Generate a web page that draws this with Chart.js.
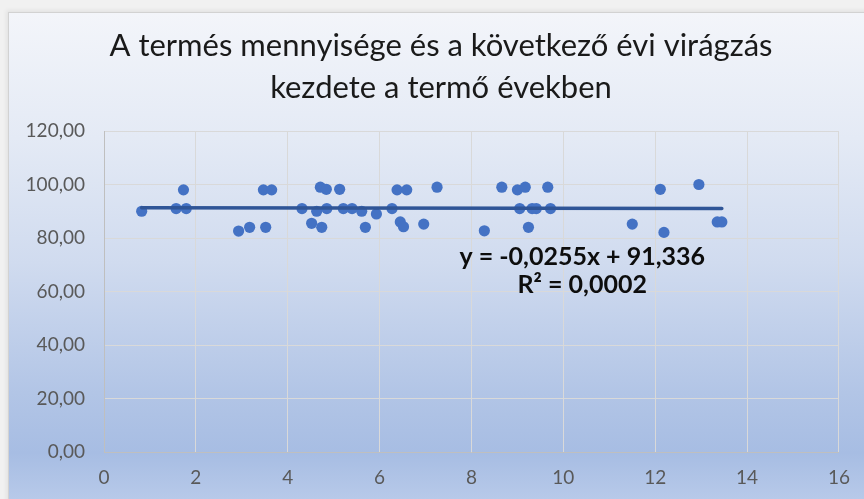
<!DOCTYPE html>
<html lang="hu">
<head>
<meta charset="utf-8">
<script src="https://cdn.jsdelivr.net/npm/chart.js@4.4.1/dist/chart.umd.min.js"></script>
<style>
  html, body { margin: 0; padding: 0; width: 864px; height: 499px; overflow: hidden; background: #f1f1f1; }
  #frame {
    position: absolute; left: 8px; top: 12px; width: 870px; height: 500px;
    border: 1px solid #d2d2d2;
    box-shadow: -2px -2px 4px rgba(0,0,0,0.06);
    background: linear-gradient(to bottom, #f3f5fa 0%, #e4eaf5 25%, #d0dbef 50%, #b2c5e6 76%, #a7bde3 88%, #bccdeb 100%);
  }
  #wrap { position: absolute; left: 0; top: 0; width: 864px; height: 499px; }
</style>
</head>
<body>
<div id="frame"></div>
<div id="wrap"><canvas id="c" width="864" height="499"></canvas></div>
<script>
// Termés mennyisége (x) és a következő évi virágzás kezdete (y)
const termes = [0.82, 1.57, 1.73, 1.79, 2.93, 3.17, 3.47, 3.52, 3.65, 4.31,
                4.52, 4.63, 4.71, 4.74, 4.84, 4.85, 5.13, 5.21, 5.40, 5.61,
                5.69, 5.93, 6.27, 6.38, 6.45, 6.52, 6.59, 6.96, 7.25, 8.28,
                8.66, 9.00, 9.05, 9.17, 9.24, 9.32, 9.41, 9.66, 9.72, 11.50,
                12.11, 12.19, 12.95, 13.35, 13.45];
const viragzas = [90, 91, 98, 91, 82.6, 84, 98, 84, 98, 91,
                  85.5, 90, 99, 84, 98.2, 91, 98.2, 91, 91, 90,
                  84, 89, 91, 98, 86, 84.2, 98, 85.2, 99, 82.7,
                  99, 98, 91, 99, 84, 91, 91, 99, 91, 85.2,
                  98.2, 82.1, 100, 86, 86];

// Lineáris trendvonal együtthatói
const meredekseg = -0.0255;
const tengelymetszet = 91.336;
const egyenletSzoveg = 'y = -0,0255x + 91,336';
const r2Szoveg = 'R² = 0,0002';

const cim = ['A termés mennyisége és a következő évi virágzás', 'kezdete a termő években'];

const pontok = termes.map((x, i) => ({ x: x, y: viragzas[i] }));
const xMin = Math.min(...termes), xMax = Math.max(...termes);
const trend = [xMin, xMax].map(x => ({ x: x, y: meredekseg * x + tengelymetszet }));

const fmt = v => v.toFixed(2).replace('.', ',');

const feliratok = {
  id: 'feliratok',
  afterDraw(chart) {
    const ctx = chart.ctx;
    ctx.save();
    ctx.fillStyle = '#1a1a1a';
    ctx.textAlign = 'center';
    ctx.textBaseline = 'middle';
    ctx.font = '31px Lato';
    ctx.fillText(cim[0], 441, 46);
    ctx.fillText(cim[1], 441, 88);

    const sx = chart.scales.x, sy = chart.scales.y;
    ctx.fillStyle = '#0d0d0d';
    ctx.font = 'bold 25px Lato';
    const cx = sx.getPixelForValue(10.41);
    ctx.fillText(egyenletSzoveg, cx, sy.getPixelForValue(72.9));
    ctx.fillText(r2Szoveg, cx, sy.getPixelForValue(62.4));
    ctx.restore();
  }
};

new Chart(document.getElementById('c'), {
  type: 'scatter',
  data: {
    datasets: [
      {
        type: 'line',
        label: 'Lineáris trend',
        data: trend,
        borderColor: '#2f5597',
        borderWidth: 3.5,
        borderCapStyle: 'round',
        pointRadius: 0,
        fill: false
      },
      {
        label: 'Virágzás kezdete',
        data: pontok,
        backgroundColor: '#4472c4',
        borderWidth: 0,
        pointRadius: 5.6
      }
    ]
  },
  options: {
    responsive: false,
    animation: false,
    layout: { padding: { left: 8, right: 25, top: 131, bottom: 7 } },
    plugins: {
      legend: { display: false },
      title: { display: false },
      tooltip: { enabled: false }
    },
    scales: {
      x: {
        type: 'linear',
        min: 0, max: 16,
        ticks: { stepSize: 2, color: '#595959', font: { family: 'Lato', size: 19 }, padding: 14 },
        grid: { color: '#d9d9d9', drawTicks: false },
        border: { display: true, color: '#bfbfbf', width: 1 },
        afterFit(s) { s.height = 40; }
      },
      y: {
        min: 0, max: 120,
        ticks: { stepSize: 20, color: '#595959', font: { family: 'Lato', size: 19 }, padding: 19, callback: v => fmt(v) },
        grid: { color: '#d9d9d9', drawTicks: false },
        border: { display: true, color: '#bfbfbf', width: 1 },
        afterFit(s) { s.width = 96; }
      }
    }
  },
  plugins: [feliratok]
});
</script>
</body>
</html>
